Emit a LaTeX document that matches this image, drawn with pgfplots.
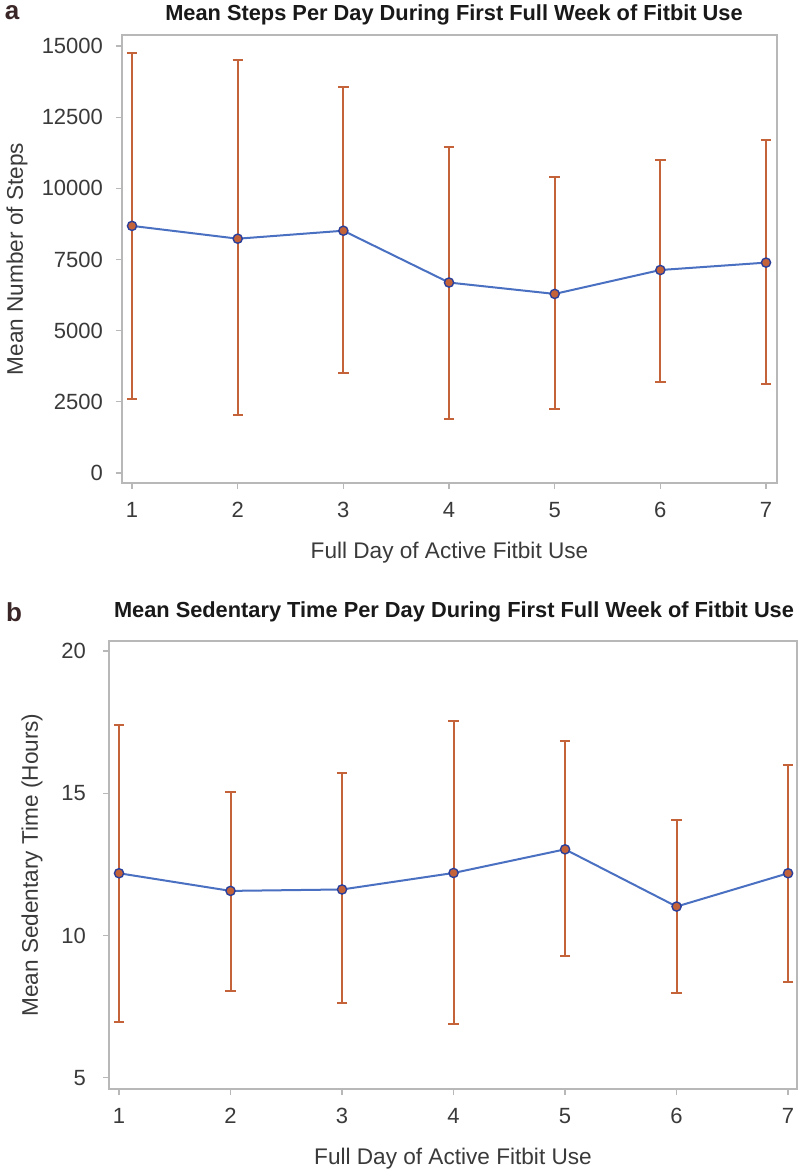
\documentclass[border=0pt]{standalone}
\usepackage{fontspec}
\setmainfont{Liberation Sans}
\usepackage{pgfplots}
\pgfplotsset{compat=1.18}
\definecolor{errc}{HTML}{C4623A}
\definecolor{linec}{HTML}{4A70C2}
\definecolor{markc}{HTML}{2B3F9A}
\definecolor{boxc}{HTML}{B8B8B8}
\definecolor{tickc}{HTML}{3A3A3A}
\definecolor{panelc}{HTML}{3A2626}
\pgfplotsset{
  common/.style={
    scale only axis,
    anchor=south west,
    axis line style={boxc, line width=0.75pt},
    tick align=outside,
    tick pos=left,
    major tick length=3pt,
    tick style={boxc, line width=0.6pt},
    xtick={1,2,3,4,5,6,7},
    scaled y ticks=false,
    /pgf/number format/assume math mode=true,
    /pgf/number format/1000 sep={},
    ticklabel style={font=\fontsize{11}{12}\selectfont, text=tickc},
    xticklabel style={yshift=-3pt},
    label style={font=\fontsize{11.3}{13}\selectfont, text=tickc},
    title style={font=\bfseries\fontsize{10.9}{12}\selectfont, text=black!90, anchor=center},
    xlabel style={at={(axis description cs:0.5,0)}, anchor=center, yshift=-35pt},
  },
  ebars/.style={only marks, mark=none, color=errc,
    error bars/.cd, y dir=both, y explicit,
    error bar style={line width=1pt, color=errc},
    error mark options={rotate=90, line width=1pt, mark size=2.6pt, color=errc}},
  meanline/.style={color=linec, line width=1pt, mark=o, mark size=2.3pt,
    mark options={draw=markc, line width=0.7pt}},
}
\begin{document}
\begin{tikzpicture}
\path[use as bounding box, fill=white] (0,0) rectangle (400pt,587.5pt);
% Panel a
\begin{axis}[common,
  at={(61pt,346pt)}, width=327.5pt, height=224pt,
  xmin=0.905, xmax=7.104, ymin=-351, ymax=15385,
  ytick={0,2500,5000,7500,10000,12500,15000},
  yticklabel style={xshift=-3pt},
  title={Mean Steps Per Day During First Full Week of Fitbit Use},
  title style={at={(axis description cs:0.5,1)}, xshift=2.25pt, yshift=4pt},
  xlabel={Full Day of Active Fitbit Use},
  ylabel={Mean Number of Steps},
  ylabel style={at={(axis description cs:0,0.5)}, anchor=center, yshift=52.5pt},
]
\addplot[ebars]
coordinates {
  (1,8680) += (0,6080) -= (0,6070)
  (2,8230) += (0,6270) -= (0,6180)
  (3,8510) += (0,5060) -= (0,5010)
  (4,6690) += (0,4760) -= (0,4800)
  (5,6290) += (0,4120) -= (0,4050)
  (6,7130) += (0,3860) -= (0,3920)
  (7,7390) += (0,4310) -= (0,4260)
};
\addplot[meanline]
coordinates {(1,8680) (2,8230) (3,8510) (4,6690) (5,6290) (6,7130) (7,7390)};
\end{axis}
% Panel b
\begin{axis}[common,
  at={(54.5pt,43pt)}, width=344pt, height=224pt,
  xmin=0.91, xmax=7.08, ymin=4.61, ymax=20.35,
  ytick={5,10,15,20},
  yticklabel style={xshift=-5pt},
  title={Mean Sedentary Time Per Day During First Full Week of Fitbit Use},
  title style={at={(axis description cs:0.5,1)}, xshift=0.5pt, yshift=8.5pt},
  xlabel={Full Day of Active Fitbit Use},
  ylabel={Mean Sedentary Time (Hours)},
  ylabel style={at={(axis description cs:0,0.5)}, anchor=center, yshift=38.5pt},
]
\addplot[ebars]
coordinates {
  (1,12.19) += (0,5.22) -= (0,5.21)
  (2,11.57) += (0,3.49) -= (0,3.50)
  (3,11.62) += (0,4.10) -= (0,4.00)
  (4,12.20) += (0,5.33) -= (0,5.32)
  (5,13.03) += (0,3.82) -= (0,3.76)
  (6,11.02) += (0,3.05) -= (0,3.02)
  (7,12.19) += (0,3.80) -= (0,3.82)
};
\addplot[meanline]
coordinates {(1,12.19) (2,11.57) (3,11.62) (4,12.20) (5,13.03) (6,11.02) (7,12.19)};
\end{axis}
\node[font=\bfseries\fontsize{13}{15}\selectfont, text=panelc] at (6pt,581pt) {a};
\node[font=\bfseries\fontsize{13}{15}\selectfont, text=panelc] at (7pt,281.5pt) {b};
\end{tikzpicture}
\end{document}
